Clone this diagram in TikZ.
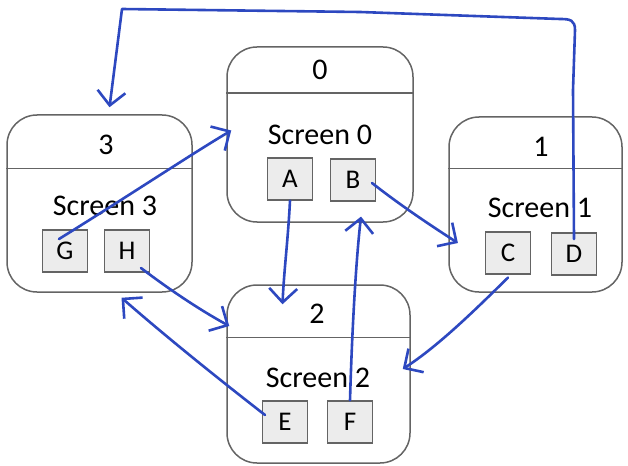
\documentclass[tikz,border=0pt]{standalone}
\usepackage{fontspec}
\setmainfont{Carlito}
\usetikzlibrary{arrows.meta,calc}
\definecolor{pen}{RGB}{45,72,192}
\definecolor{frame}{RGB}{100,100,100}
\definecolor{keyfill}{RGB}{236,236,236}
\tikzset{
  screen/.style={draw=frame, line width=1.5pt, rounded corners=30pt, inner sep=0pt},
  divider/.style={draw=frame, line width=1.5pt},
  key/.style={draw=frame, fill=keyfill, line width=1.2pt, minimum width=45pt, minimum height=42pt, inner sep=0pt, font=\fontsize{27}{30}\selectfont},
  lbl/.style={inner sep=0pt, font=\fontsize{30}{34}\selectfont},
  link/.style={draw=pen, line width=2.6pt, line cap=round, line join=round, -{Straight Barb[length=14pt,width=28pt,line width=2.6pt]}}
}
\begin{document}
\begin{tikzpicture}[x=1pt,y=-1pt]
\useasboundingbox (0,0) rectangle (628,465);
% screens
\node[screen, minimum width=185pt, minimum height=177pt] (s3) at (99.5,203.5) {};
\node[screen, minimum width=186pt, minimum height=175pt] (s0) at (320,134.5) {};
\node[screen, minimum width=173pt, minimum height=175pt] (s1) at (535.5,204.5) {};
\node[screen, minimum width=183pt, minimum height=178pt] (s2) at (318.5,374) {};
% dividers
\draw[divider] ($(s3.north west)+(0,54)$) -- ($(s3.north east)+(0,54)$);
\draw[divider] ($(s0.north west)+(0,47)$) -- ($(s0.north east)+(0,47)$);
\draw[divider] ($(s1.north west)+(0,52)$) -- ($(s1.north east)+(0,52)$);
\draw[divider] ($(s2.north west)+(0,53)$) -- ($(s2.north east)+(0,53)$);
% titles
\node[lbl] (t3) at (106,145) {3};
\node[lbl] (t0) at (320,70) {0};
\node[lbl] (t1) at (541,147) {1};
\node[lbl] (t2) at (317,314) {2};
\node[lbl] (n3) at (105,206) {Screen 3};
\node[lbl] (n0) at (320,135) {Screen 0};
\node[lbl] (n1) at (540,208) {Screen 1};
\node[lbl] (n2) at (318,378) {Screen 2};
% keys
\node[key] (G) at (65,251) {G};
\node[key] (H) at (127,251) {H};
\node[key] (A) at (290,179) {A};
\node[key] (B) at (353,180) {B};
\node[key] (C) at (508,253) {C};
\node[key] (D) at (574,254) {D};
\node[key] (E) at (285,422) {E};
\node[key] (F) at (350,422) {F};
% connectors
\draw[link] ($(G.center)+(-6,-12)$) .. controls (130,195) and (190,155) .. ($(s0.west)+(5,-4)$);
\draw[link] ($(H.center)+(14,17)$) .. controls (170,290) and (200,310) .. ($(s2.west)+(3,-48)$);
\draw[link] ($(E.center)+(-20,-7)$) .. controls (220,380) and (170,340) .. ($(s3.south)+(22,5)$);
\draw[link] (A.south) .. controls (288,240) and (284,270) .. ($(s2.north)+(-36,20)$);
\draw[link] (F.north) .. controls (352,330) and (356,260) .. ($(B.south)+(8,15)$);
\draw[link] ($(B.center)+(19,3)$) .. controls (400,205) and (430,225) .. ($(C.west)+(-27,-10)$);
\draw[link] ($(C.south)+(0,3)$) .. controls (480,305) and (440,345) .. ($(s2.east)+(-8,-5)$);
\draw[link] ($(D.center)+(0,-15)$) -- (573,90) -- (575,30) .. controls (575,20) and (570,19) .. (560,19)
  -- (360,12) -- (122,9) -- ($(s3.north)+(10,-7)$);
\end{tikzpicture}
\end{document}
